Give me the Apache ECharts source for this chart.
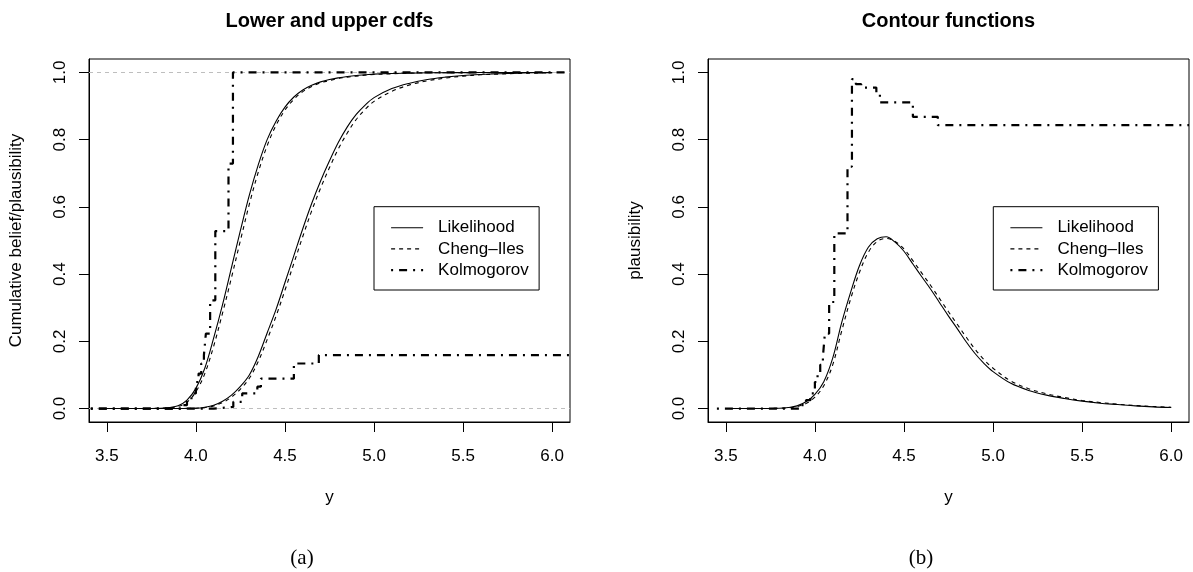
<!DOCTYPE html>
<html><head><meta charset="utf-8">
<script src="https://cdn.jsdelivr.net/npm/echarts@6/dist/echarts.min.js"></script>
<style>html,body{margin:0;padding:0;background:#fff}#c{width:1193px;height:572px}</style>
</head><body><div id="c"></div>
<script>
// ---------- data ----------
const xTicks = [3.5, 4.0, 4.5, 5.0, 5.5, 6.0];
const yTicks = [0.0, 0.2, 0.4, 0.6, 0.8, 1.0];
const refLines = [0, 1];

const xGrid = [3.5,3.6,3.7,3.8,3.85,3.9,3.95,4.0,4.05,4.1,4.15,4.2,4.25,4.3,4.35,4.4,4.45,4.5,4.55,4.6,4.65,4.7,4.75,4.8,4.85,4.9,4.95,5.0,5.1,5.2,5.3,5.4,5.5,5.6,5.7,5.8,5.9,6.0];

const likUpper = [0,0,0,0.001,0.003,0.008,0.025,0.06,0.12,0.21,0.31,0.42,0.53,0.635,0.725,0.80,0.855,0.897,0.927,0.948,0.962,0.972,0.979,0.984,0.988,0.991,0.993,0.995,0.997,0.998,0.999,0.9993,0.9995,0.9997,0.9998,0.9999,1.0,1.0];
const ciUpper  = [0,0,0,0.001,0.002,0.006,0.019,0.05,0.104,0.186,0.285,0.39,0.50,0.608,0.703,0.782,0.843,0.888,0.92,0.943,0.958,0.969,0.976,0.982,0.986,0.989,0.992,0.994,0.996,0.998,0.999,0.9993,0.9995,0.9997,0.9998,0.9999,1.0,1.0];
const likLower = [0,0,0,0,0,0,0.0005,0.001,0.004,0.01,0.022,0.04,0.066,0.1,0.155,0.225,0.295,0.375,0.455,0.535,0.61,0.677,0.737,0.792,0.838,0.875,0.903,0.925,0.952,0.968,0.979,0.986,0.991,0.994,0.996,0.998,0.999,0.9995];
const ciLower  = [0,0,0,0,0,0,0.0003,0.001,0.003,0.008,0.018,0.034,0.058,0.09,0.14,0.205,0.275,0.352,0.432,0.512,0.588,0.656,0.717,0.773,0.82,0.86,0.89,0.914,0.944,0.963,0.975,0.983,0.989,0.993,0.995,0.997,0.998,0.999];

const likContour = [0,0,0,0.001,0.003,0.008,0.02,0.042,0.08,0.15,0.255,0.345,0.425,0.48,0.505,0.511,0.495,0.468,0.43,0.392,0.355,0.315,0.275,0.237,0.198,0.163,0.134,0.11,0.075,0.054,0.04,0.03,0.022,0.016,0.012,0.008,0.005,0.003];
const ciContour  = [0,0,0,0.001,0.002,0.006,0.015,0.034,0.068,0.13,0.23,0.325,0.405,0.465,0.497,0.506,0.497,0.475,0.44,0.403,0.366,0.327,0.288,0.25,0.212,0.176,0.145,0.12,0.082,0.059,0.044,0.033,0.024,0.018,0.013,0.009,0.006,0.004];

const kolUpperX = [3.41,3.92,3.95,3.975,4.0,4.015,4.03,4.045,4.056,4.08,4.109,4.183,4.208,6.1];
const kolUpperY = [0,0.01,0.025,0.045,0.079,0.104,0.134,0.159,0.223,0.322,0.528,0.729,1.0,1.0];
const kolLowerX = [3.41,4.1,4.21,4.26,4.345,4.365,4.55,4.69,6.1];
const kolLowerY = [0,0.005,0.02,0.045,0.065,0.089,0.134,0.159,0.159];
const kolContourX = [3.45,3.92,3.95,3.975,4.0,4.015,4.03,4.045,4.056,4.08,4.109,4.183,4.208,4.23,4.26,4.345,4.365,4.55,4.69,6.1];
const kolContourY = [0,0.01,0.025,0.045,0.079,0.104,0.13,0.154,0.223,0.317,0.521,0.72,0.98,0.965,0.955,0.935,0.911,0.868,0.843,0.843];

const legendNames = ['Likelihood', 'Cheng\u2013Iles', 'Kolmogorov'];

// ---------- chart ----------
const FONT = 'Liberation Sans';
const pairs = (xs, ys) => xs.map((x, i) => [x, ys[i]]);
const solid = {color:'#000', width:1.1, type:'solid'};
const dashed = {color:'#000', width:1.1, type:[4,4]};
const dotdash = {color:'#000', width:2.2, type:[2,6,8,6]};

function ser(name, data, style, idx, extra) {
  return Object.assign({
    type:'line', name, data, xAxisIndex:idx, yAxisIndex:idx, symbol:'none',
    lineStyle:style, itemStyle:{color:'#000'}, smooth:0.35,
    animation:false, emphasis:{disabled:true}, z:3
  }, extra || {});
}

function xAx(idx) {
  return {
    type:'value', gridIndex:idx, min:3.4, max:6.1,
    name:'y', nameLocation:'middle', nameGap:67,
    nameTextStyle:{fontFamily:FONT, fontSize:17, color:'#000'},
    axisLine:{show:true, onZero:false, lineStyle:{color:'#000', width:1}},
    axisTick:{show:true, inside:false, length:10, customValues:xTicks, lineStyle:{color:'#000', width:1}},
    axisLabel:{show:true, customValues:xTicks, formatter:v => Number(v).toFixed(1), margin:26,
      fontFamily:FONT, fontSize:17, color:'#000'},
    splitLine:{show:false}
  };
}
function yAx(idx, title) {
  return {
    type:'value', gridIndex:idx, min:-0.04, max:1.04,
    name:title, nameLocation:'middle', nameGap:64, nameRotate:90,
    nameTextStyle:{fontFamily:FONT, fontSize:17, color:'#000'},
    axisLine:{show:true, onZero:false, lineStyle:{color:'#000', width:1}},
    axisTick:{show:true, inside:false, length:10, customValues:yTicks, lineStyle:{color:'#000', width:1}},
    axisLabel:{show:true, customValues:yTicks, rotate:90, formatter:v => Number(v).toFixed(1), margin:20,
      fontFamily:FONT, fontSize:17, color:'#000'},
    splitLine:{show:false}
  };
}
function legendAt(left) {
  return {
    left:left, top:206.7, orient:'vertical', data:legendNames,
    itemWidth:32, itemHeight:14, itemGap:4.2, padding:[12.5,10.3,11.4,16],
    borderColor:'#000', borderWidth:1, backgroundColor:'#fff', selectedMode:false,
    textStyle:{fontFamily:FONT, fontSize:17, color:'#000', padding:[0,0,0,10]},
    itemStyle:{opacity:0, color:'transparent', borderWidth:0},
    lineStyle:{width:'inherit'}
  };
}

const chart = echarts.init(document.getElementById('c'), null, {renderer:'canvas'});
chart.setOption({
  animation:false,
  backgroundColor:'#fff',
  title:[
    {text:'Lower and upper cdfs', left:329.5, top:21, textAlign:'center', textVerticalAlign:'middle', padding:0,
     textStyle:{fontFamily:FONT, fontSize:20, fontWeight:'bold', color:'#000'}},
    {text:'Contour functions', left:948.5, top:21, textAlign:'center', textVerticalAlign:'middle', padding:0,
     textStyle:{fontFamily:FONT, fontSize:20, fontWeight:'bold', color:'#000'}},
    {text:'(a)', left:302, top:558, textAlign:'center', textVerticalAlign:'middle', padding:0,
     textStyle:{fontFamily:'Liberation Serif', fontSize:21, fontWeight:'normal', color:'#000'}},
    {text:'(b)', left:921, top:558, textAlign:'center', textVerticalAlign:'middle', padding:0,
     textStyle:{fontFamily:'Liberation Serif', fontSize:21, fontWeight:'normal', color:'#000'}}
  ],
  grid:[
    {left:89, top:59, width:481, height:363, show:true, borderColor:'#000', borderWidth:1, backgroundColor:'transparent', containLabel:false},
    {left:708, top:59, width:481, height:363, show:true, borderColor:'#000', borderWidth:1, backgroundColor:'transparent', containLabel:false}
  ],
  xAxis:[xAx(0), xAx(1)],
  yAxis:[yAx(0, 'Cumulative belief/plausibility'), yAx(1, 'plausibility')],
  legend:[legendAt(374), legendAt(993.3)],
  series:[
    ser('Likelihood', pairs(xGrid, likUpper), solid, 0, {
      markLine:{silent:true, symbol:'none', animation:false, label:{show:false}, z:1,
        lineStyle:{color:'#bebebe', width:1, type:[4,4]},
        data:refLines.map(v => ({yAxis:v}))}
    }),
    ser('Likelihood', pairs(xGrid, likLower), solid, 0),
    ser(legendNames[1], pairs(xGrid, ciUpper), dashed, 0),
    ser(legendNames[1], pairs(xGrid, ciLower), dashed, 0),
    ser('Kolmogorov', pairs(kolUpperX, kolUpperY), dotdash, 0, {smooth:false, step:'end'}),
    ser('Kolmogorov', pairs(kolLowerX, kolLowerY), dotdash, 0, {smooth:false, step:'end'}),
    ser('Likelihood', pairs(xGrid, likContour), solid, 1),
    ser(legendNames[1], pairs(xGrid, ciContour), dashed, 1),
    ser('Kolmogorov', pairs(kolContourX, kolContourY), dotdash, 1, {smooth:false, step:'end'})
  ]
});
</script></body></html>
